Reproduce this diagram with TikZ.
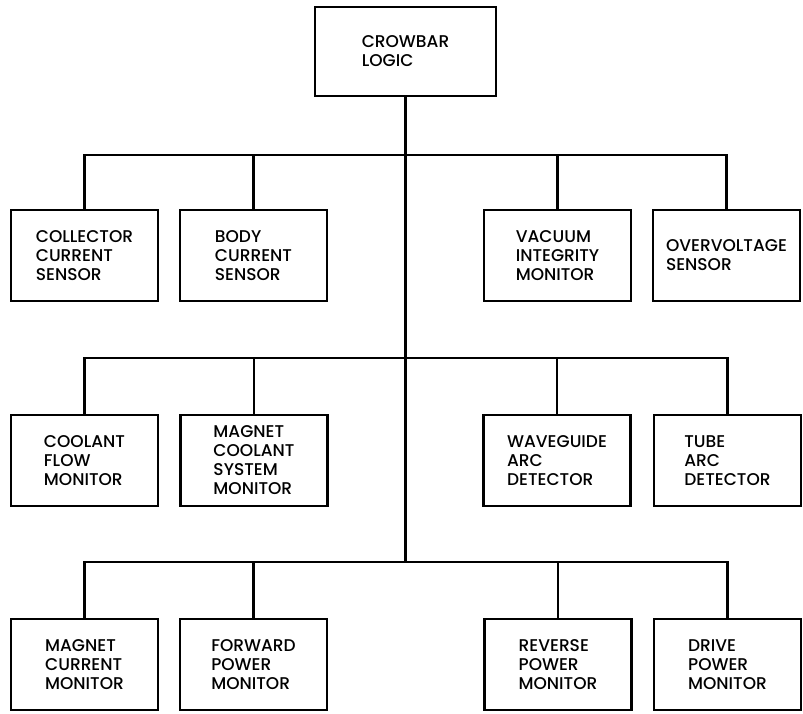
\documentclass[tikz,border=0pt]{standalone}
\usepackage{fontspec}
\setmainfont{Poppins}[UprightFont={* Medium}]
\begin{document}
\begin{tikzpicture}[x=1pt,y=-1pt,
  blk/.style={draw,line width=2.2pt,rectangle,minimum width=147pt,minimum height=91pt,
    inner sep=0pt,align=left,font=\fontsize{17}{19}\selectfont},
  wire/.style={line width=2.2pt}]
\useasboundingbox (0,0) rectangle (803,714);
% root
\node[blk,minimum width=181pt,minimum height=89pt] (root) at (405.5,51.5) {CROWBAR\\LOGIC};
% first tier
\node[blk] (a1) at (84.5,255.5) {COLLECTOR\\CURRENT\\SENSOR};
\node[blk] (a2) at (253.5,255.5) {BODY\\CURRENT\\SENSOR};
\node[blk] (a3) at (557.5,255.5) {VACUUM\\INTEGRITY\\MONITOR};
\node[blk] (a4) at (726.5,255.5) {OVERVOLTAGE\\SENSOR};
% second tier
\node[blk] (b1) at (84.5,460.5) {COOLANT\\FLOW\\MONITOR};
\node[blk] (b2) at (254,460.5) {MAGNET\\COOLANT\\SYSTEM\\MONITOR};
\node[blk] (b3) at (557,460.5) {WAVEGUIDE\\ARC\\DETECTOR};
\node[blk] (b4) at (727.5,460.5) {TUBE\\ARC\\DETECTOR};
% third tier
\node[blk] (c1) at (84.5,664.5) {MAGNET\\CURRENT\\MONITOR};
\node[blk] (c2) at (253.5,664.5) {FORWARD\\POWER\\MONITOR};
\node[blk] (c3) at (558,664.5) {REVERSE\\POWER\\MONITOR};
\node[blk] (c4) at (727.5,664.5) {DRIVE\\POWER\\MONITOR};
% bus junctions on the trunk
\coordinate (j1) at (405.5,155);
\coordinate (j2) at (405.5,358);
\coordinate (j3) at (405.5,562);
% trunk
\draw[wire] (root.south) -- (j3);
% buses and drops
\foreach \j/\l/\r in {j1/a1/a4, j2/b1/b4, j3/c1/c4}
  \draw[wire] ([xshift=-1.1pt]\l.north |- \j) -- ([xshift=1.1pt]\r.north |- \j);
\foreach \j/\n in {j1/a1, j1/a2, j1/a3, j1/a4, j2/b1, j2/b2, j2/b3, j2/b4, j3/c1, j3/c2, j3/c3, j3/c4}
  \draw[wire] (\n.north) -- (\n.north |- \j);
\end{tikzpicture}
\end{document}
